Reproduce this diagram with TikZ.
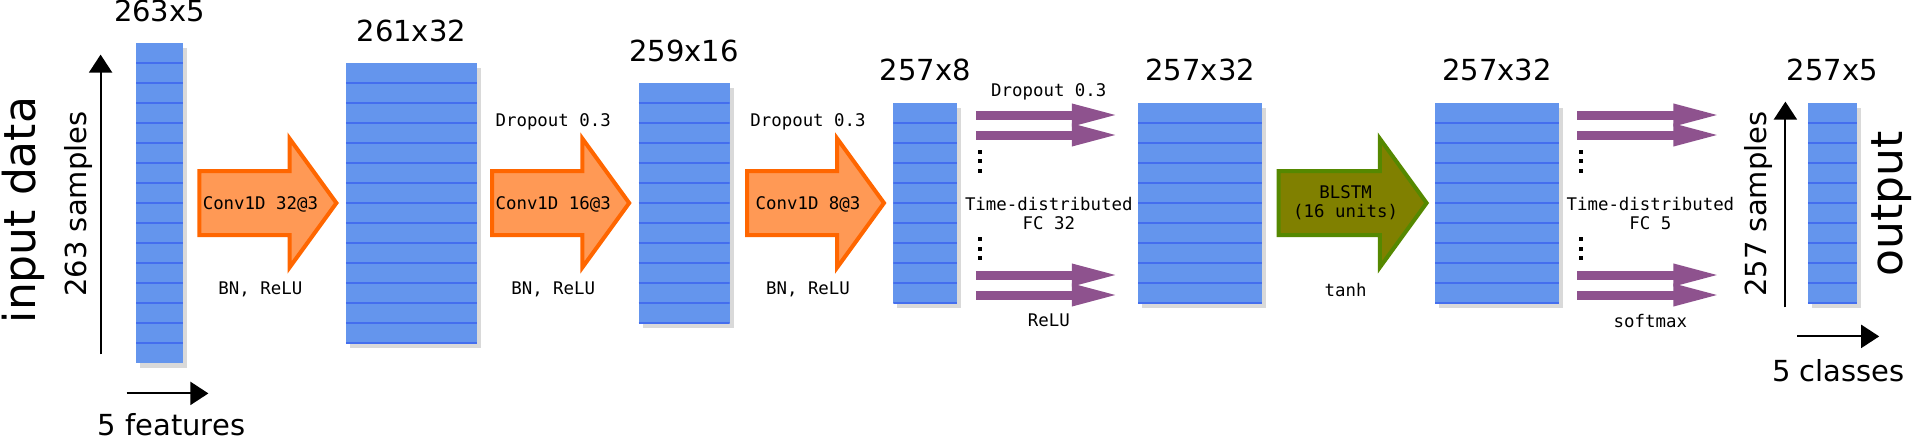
\documentclass[tikz,border=0pt]{standalone}
\usepackage{fontspec}
\setmainfont{DejaVu Sans}
\setmonofont{DejaVu Sans Mono}
\usepackage{xcolor}
\usepackage{tikz}
\usetikzlibrary{positioning}
\usetikzlibrary{calc}
\usetikzlibrary{shapes.arrows}
\usetikzlibrary{shadows}
\usetikzlibrary{arrows.meta}

\definecolor{layerblue}{RGB}{100,149,237}
\definecolor{rowblue}{RGB}{68,110,238}
\definecolor{convfill}{RGB}{255,153,85}
\definecolor{convline}{RGB}{255,102,0}
\definecolor{lstmfill}{RGB}{128,128,0}
\definecolor{lstmline}{RGB}{85,136,0}
\definecolor{densepurple}{RGB}{142,82,142}

\begin{document}
\begin{tikzpicture}[
    x=0.5pt, y=-0.5pt,
    layer/.style 2 args={rectangle, fill=layerblue, inner sep=0pt, minimum width=#1, minimum height=#2,
        drop shadow={shadow xshift=2pt, shadow yshift=-2.5pt, opacity=0.3},
        path picture={
            \foreach \k in {1,...,15}
                \draw[rowblue, line width=0.6pt] ($(path picture bounding box.north west)+(0,\k*20)$) -- ($(path picture bounding box.north east)+(0,\k*20)$);
        }},
    conv/.style={single arrow, draw=convline, fill=convfill, line width=2pt, anchor=tail,
        minimum height=68.5pt, single arrow head extend=16.25pt, single arrow tip angle=108,
        inner sep=0pt, inner ysep=15pt},
    lstm/.style={conv, draw=lstmline, fill=lstmfill, minimum height=74pt},
    fc/.style={draw=densepurple, line width=4.5pt, -{Triangle[length=24pt, width=10pt]}},
    axis/.style={line width=1pt, -{Triangle[length=9pt, width=11.5pt]}},
    dim/.style={font=\fontsize{14.5pt}{17pt}\selectfont, inner sep=0pt},
    big/.style={font=\fontsize{22pt}{26pt}\selectfont, inner sep=0pt},
    lbl/.style={font=\ttfamily\fontsize{8.7pt}{9.5pt}\selectfont, inner sep=0pt, align=center}
]
\useasboundingbox (0,0) rectangle (1913,439);

\node[layer={23.5pt}{160pt}] (c1) at (159.5,203) {};
\node[layer={65.5pt}{140pt}, right=81pt of c1] (c2) {};
\node[layer={45.5pt}{120pt}, right=80.5pt of c2] (c3) {};
\node[layer={32pt}{100pt}, right=81.5pt of c3] (c4) {};
\node[layer={62pt}{100pt}, right=90pt of c4] (c5) {};
\node[layer={62pt}{100pt}, right=86pt of c5] (c6) {};
\node[layer={24.5pt}{100pt}, right=124pt of c6] (c7) {};

\node[dim, above=10pt of c1] (d1) {263x5};
\node[dim, above=10pt of c2] (d2) {261x32};
\node[dim, above=10pt of c3] (d3) {259x16};
\node[dim, above=10.5pt of c4] (d4) {257x8};
\node[dim, above=10.5pt of c5] (d5) {257x32};
\node[dim, above=10.5pt of c6] (d6) {257x32};
\node[dim, above=10.5pt of c7] (d7) {257x5};

\node[conv] (a1) at ($(c1.east)+(14,0)$) {};
\node[conv] (a2) at ($(c2.east)+(13,0)$) {};
\node[conv] (a3) at ($(c3.east)+(15,0)$) {};
\node[lstm] (a4) at ($(c5.east)+(14,0)$) {};

\node[lbl] (t1) at ($(a1.tail)+(63,1)$) {Conv1D 32@3};
\node[lbl] (t2) at ($(a2.tail)+(63,1)$) {Conv1D 16@3};
\node[lbl] (t3) at ($(a3.tail)+(63,1)$) {Conv1D 8@3};
\node[lbl] (t4) at ($(a4.tail)+(69,0)$) {BLSTM\\(16 units)};

\node[lbl, anchor=base] (bn1) at ($(t1)+(0,90)$) {BN, ReLU};
\node[lbl, anchor=base] (do2) at ($(t2)+(0,-78)$) {Dropout 0.3};
\node[lbl, anchor=base] (bn2) at ($(t2)+(0,90)$) {BN, ReLU};
\node[lbl, anchor=base] (do3) at ($(t3)+(0,-78)$) {Dropout 0.3};
\node[lbl, anchor=base] (bn3) at ($(t3)+(0,90)$) {BN, ReLU};
\node[lbl, anchor=base] (th4) at ($(t4)+(0,93)$) {tanh};

\foreach \dy in {-88,-68,72,92} {
    \draw[fc] ($(c4.east)+(18,\dy)$) -- ++(144,0);
    \draw[fc] ($(c6.east)+(18,\dy)$) -- ++(144,0);
}
\foreach \dy in {-51,-42,-32,36,46,55} {
    \fill ($(c4.east)+(22,\dy)$) +(-2,-2) rectangle +(2,2);
    \fill ($(c6.east)+(22,\dy)$) +(-2,-2) rectangle +(2,2);
}
\node[lbl, anchor=base] (do4) at ($(c4.east)+(91,-107)$) {Dropout 0.3};
\node[lbl] (fc4) at ($(c4.east)+(91,11)$) {Time-distributed\\FC 32};
\node[lbl, anchor=base] (re4) at ($(c4.east)+(91,123)$) {ReLU};
\node[lbl] (fc6) at ($(c6.east)+(91,11)$) {Time-distributed\\FC 5};
\node[lbl, anchor=base] (sm6) at ($(c6.east)+(91,124)$) {softmax};

\coordinate (in_b) at ($(c1.south west)+(-35,-9)$);
\coordinate (in_t) at ($(c1.north west)+(-35,12)$);
\coordinate (ft_l) at ($(c1.south west)+(-9,30)$);
\coordinate (ft_r) at ($(c1.south east)+(25,30)$);
\coordinate (out_b) at ($(c7.south west)+(-22,4)$);
\coordinate (out_t) at ($(c7.north west)+(-22,-1)$);
\coordinate (cl_l) at ($(c7.south west)+(-10,33)$);
\coordinate (cl_r) at ($(c7.south east)+(22,33)$);
\draw[axis] (in_b) -- (in_t);
\draw[axis] (ft_l) -- (ft_r);
\draw[axis] (out_b) -- (out_t);
\draw[axis] (cl_l) -- (cl_r);

\node[big, rotate=90] (indata) at ($(c1.west)+(-112,7)$) {input data};
\node[dim, rotate=90] (insamp) at ($(c1.west)+(-57,1)$) {263 samples};
\node[dim, anchor=base] (infeat) at ($(c1.south)+(12,72)$) {5 features};
\node[dim, rotate=90] (outsamp) at ($(c7.west)+(-49,1)$) {257 samples};
\node[big, rotate=90] (outdata) at ($(c7.east)+(34,1)$) {output};
\node[dim, anchor=base] (outcls) at ($(c7.south)+(6,78)$) {5 classes};
\end{tikzpicture}
\end{document}
